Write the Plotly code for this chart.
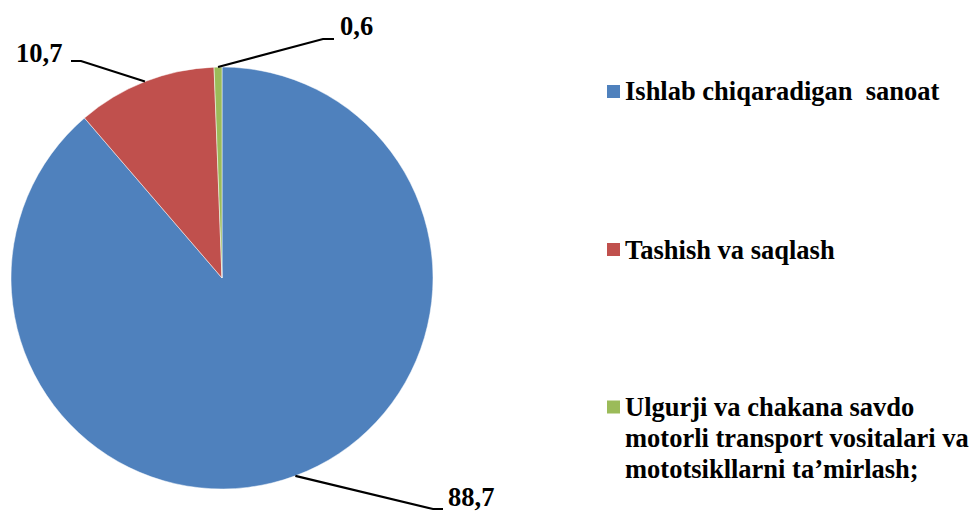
import math
import plotly.graph_objects as go

categories = [
    "Ishlab chiqaradigan  sanoat",
    "Tashish va saqlash",
    "Ulgurji va chakana savdo<br>motorli transport vositalari va<br>mototsikllarni ta\u2019mirlash;",
]
values = [88.7, 10.7, 0.6]
colors = ["#4F81BD", "#C0504D", "#9BBB59"]

W, H = 973, 513
CX, CY, R = 222, 278, 211
FONT = "Liberation Serif, Times New Roman, serif"
FS = 26.5

def px(x):
    return x / W

def py(y):
    return 1 - y / H

fig = go.Figure(go.Pie(
    labels=[c.replace("<br>", " ") for c in categories], values=values,
    sort=False, direction="clockwise", rotation=0,
    marker=dict(colors=colors, line=dict(color="white", width=0.5)),
    textinfo="none", hoverinfo="label+value", showlegend=False,
    domain=dict(x=[px(CX - R), px(CX + R)], y=[py(CY + R), py(CY - R)]),
))

# leader line elbows/ends and label anchors (pixel offsets for layout)
elbows = [((433, 509), (443, 509), (446, 497), "left"),
          ((81, 61), (71, 61), (64, 53), "right"),
          ((323, 39), (334, 39), (338, 26), "left")]

shapes = []
annotations = []
total = sum(values)
cum = 0
for v, (e1, e2, lab, anchor) in zip(values, elbows):
    mid = (cum + v / 2) / total * 2 * math.pi
    cum += v
    sx = CX + R * math.sin(mid)
    sy = CY - R * math.cos(mid)
    path = f"M {px(sx)} {py(sy)} L {px(e1[0])} {py(e1[1])} L {px(e2[0])} {py(e2[1])}"
    shapes.append(dict(type="path", xref="paper", yref="paper", path=path,
                       line=dict(color="black", width=2.2)))
    annotations.append(dict(xref="paper", yref="paper", x=px(lab[0]), y=py(lab[1]),
                            text=f"<b>{v:.1f}</b>".replace(".", ","), showarrow=False,
                            xanchor=anchor, yanchor="middle",
                            font=dict(family=FONT, size=FS, color="black")))

# custom legend
leg_y = [91.5, 249.5, 407]
LINE = 31
for cat, col, ly in zip(categories, colors, leg_y):
    shapes.append(dict(type="rect", xref="paper", yref="paper",
                       x0=px(607), x1=px(620), y0=py(ly + 6.5), y1=py(ly - 6.5),
                       fillcolor=col, line=dict(width=0)))
    for i, line in enumerate(cat.split("<br>")):
        annotations.append(dict(xref="paper", yref="paper", x=px(623), y=py(ly + i * LINE),
                                text=f"<b>{line}</b>", showarrow=False, align="left",
                                xanchor="left", yanchor="middle",
                                font=dict(family=FONT, size=FS, color="black")))

fig.update_layout(
    width=W, height=H, margin=dict(l=0, r=0, t=0, b=0),
    paper_bgcolor="white", plot_bgcolor="white",
    shapes=shapes, annotations=annotations,
)

fig.write_html("out.html", config={"displayModeBar": False},
               post_script="document.body.style.margin='0';")
